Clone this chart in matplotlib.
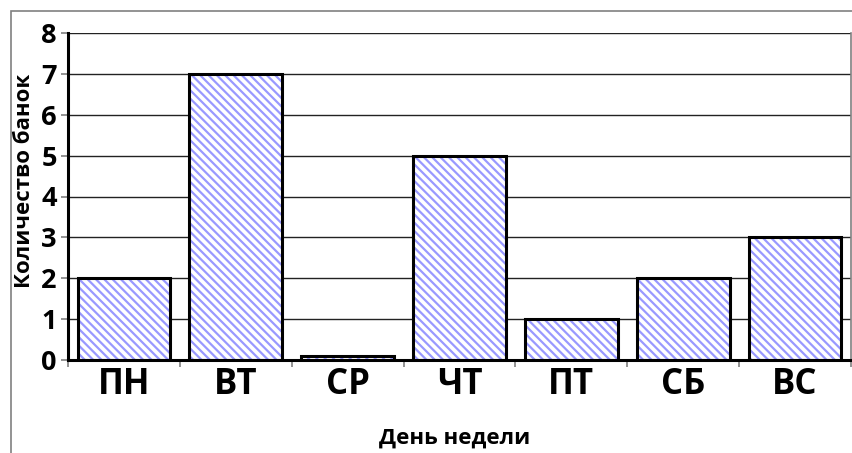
import matplotlib
matplotlib.use("Agg")
import matplotlib.pyplot as plt
from matplotlib.patches import Rectangle
import numpy as np

categories = ["ПН", "ВТ", "СР", "ЧТ", "ПТ", "СБ", "ВС"]
values = [2, 7, 0.1, 5, 1, 2, 3]
yticks = [0, 1, 2, 3, 4, 5, 6, 7, 8]

plt.rcParams['font.family'] = ['Open Sans', 'DejaVu Sans']
plt.rcParams['hatch.linewidth'] = 1.6

W, H = 852, 453
fig = plt.figure(figsize=(W / 100, H / 100), dpi=100)
fig.patch.set_facecolor('white')

# outer chart border
fig.patches.append(Rectangle((11 / W, -0.1), 1.2, 1.1 - 11 / H,
                             transform=fig.transFigure, fill=False,
                             edgecolor='#808080', linewidth=1.2))

ax = fig.add_axes([68 / W, 1 - 360 / H, 783 / W, 327 / H])
x = np.arange(len(categories))
width = 0.83
ax.bar(x, values, width=width, facecolor='white', edgecolor='#9999ff',
       hatch='\\\\\\\\', linewidth=0, zorder=2)
ax.bar(x, values, width=width, fill=False, edgecolor='black',
       linewidth=2.2, zorder=3)

ax.set_xlim(-0.5, len(categories) - 0.5)
ax.set_ylim(0, 8)
ax.set_yticks(yticks)
ax.set_yticklabels([str(t) for t in yticks], fontsize=19.5, fontweight='bold')
ax.yaxis.grid(True, color='#222222', linewidth=1.0, zorder=0)
ax.set_axisbelow(True)

ax.set_xticks(x)
ax.set_xticklabels(categories, fontsize=25, fontweight='bold')
ax.tick_params(axis='x', length=0, pad=5)
ax.set_xticks(np.arange(len(categories) + 1) - 0.5, minor=True)
ax.tick_params(axis='x', which='minor', length=5, color='#808080', width=1.2)
ax.tick_params(axis='y', length=5, color='#808080', width=1.2, pad=3)

ax.spines['top'].set_visible(False)
ax.spines['right'].set_color('#808080')
ax.spines['right'].set_linewidth(1.2)
ax.spines['left'].set_linewidth(2.2)
ax.spines['left'].set_color('black')
ax.spines['bottom'].set_linewidth(2.2)
ax.spines['bottom'].set_color('black')

fig.text(25 / W, 1 - 181 / H, "Количество банок", rotation=90,
         ha='center', va='center', fontsize=16, fontweight='bold')
fig.text(455 / W, 1 - 438 / H, "День недели", ha='center', va='center',
         fontsize=16, fontweight='bold')

fig.savefig("out.png", dpi=100)
